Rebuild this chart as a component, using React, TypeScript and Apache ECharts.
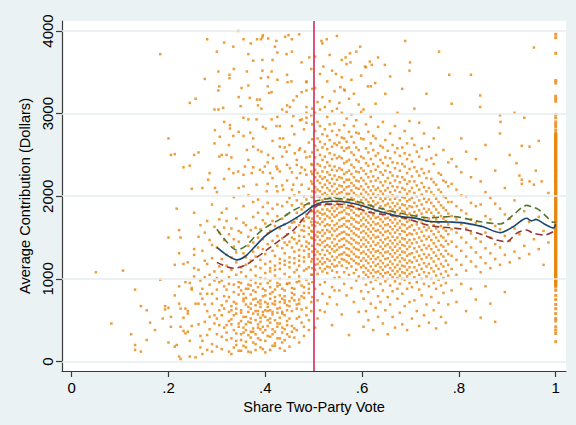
import React, { useEffect, useRef } from "react";
import * as echarts from "echarts";

// ---- axis ticks ----
const voteTicks = [0, 0.2, 0.4, 0.6, 0.8, 1];
const voteTickLabels = ["0", ".2", ".4", ".6", ".8", "1"];
const dollarTicks = [0, 1000, 2000, 3000, 4000];
const cutoff = 0.5;

// ---- scatter: [vote share, contributions at that share] ----
const sparseLeft: [number, number[]][] = [
  [0.05, [1080]], [0.082, [460]], [0.106, [1100]], [0.123, [330]], [0.131, [870, 200, 140]],
  [0.143, [670, 120]], [0.155, [620, 260]], [0.162, [470]], [0.172, [380]], [0.183, [3720, 990]],
  [0.188, [520]], [0.193, [670, 630]], [0.2, [230, 1500, 650, 2700]], [0.205, [540, 420, 2500]],
  [0.213, [1170, 180, 2510, 800]], [0.217, [200, 1850]], [0.222, [1590, 1310, 910, 700, 60]],
  [0.225, [1500, 640, 30, 420]], [0.231, [1180, 530, 370, 2350]], [0.235, [640, 340, 960]],
  [0.24, [610, 580, 360, 1200]], [0.244, [950, 250, 60, 3130, 2370]], [0.248, [890, 870, 430, 2090]],
  [0.253, [1800, 1360, 1290, 1130, 1030, 2500]], [0.256, [3180, 50, 700]],
  [0.262, [1110, 700, 1510, 2530, 450]], [0.266, [310, 820, 1650, 170, 980]],
];

const risingColumns: [number, number[]][] = [
  [0.270, [250, 760, 1340, 90, 2100, 880]],
  [0.275, [480, 1020, 1560, 690, 3420, 1220]],
  [0.280, [140, 610, 1180, 1700, 820, 3900, 320]],
  [0.285, [390, 930, 1470, 2280, 540, 1050]],
  [0.290, [210, 820, 1250, 1900, 700, 120, 1410]],
  [0.295, [560, 1090, 1630, 2640, 460, 980, 3050]],
  [0.300, [330, 870, 1380, 2050, 520, 180, 1010, 760]],
  [0.305, [620, 1150, 1720, 2480, 960, 440, 1560, 3330]],
  [0.310, [150, 680, 1240, 1800, 560, 300, 1090, 980]],
  [0.315, [410, 910, 1470, 2210, 2900, 790, 1620, 640, 3860]],
  [0.320, [260, 730, 1290, 1850, 350, 870, 1700, 440, 1160]],
  [0.325, [490, 1020, 1540, 2330, 600, 120, 2620, 940, 780]],
  [0.330, [90, 620, 1110, 1610, 2470, 510, 280, 1260, 670, 450]],
  [0.335, [380, 840, 1390, 1990, 720, 930, 3540, 170, 1480, 560]],
  [0.340, [200, 700, 1200, 1730, 580, 340, 1050, 640, 250, 1320]],
  [0.345, [460, 960, 1450, 2100, 2780, 810, 1580, 420, 900, 3200, 130]],
  [0.350, [130, 590, 1080, 1560, 490, 260, 950, 620, 860, 1140, 330]],
  [0.355, [350, 820, 1310, 1880, 2260, 730, 1680, 410, 540, 2950, 760, 190]],
  [0.360, [240, 690, 1170, 1650, 380, 170, 1030, 770, 540, 1260, 450, 880]],
  [0.365, [480, 930, 1400, 2010, 2440, 600, 1510, 320, 880, 3720, 660, 120]],
  [0.370, [110, 640, 1110, 1590, 520, 290, 990, 700, 920, 1220, 470, 810, 360]],
  [0.375, [400, 860, 1330, 1930, 2350, 750, 1440, 360, 580, 2700, 1750, 230]],
  [0.380, [210, 680, 1150, 1620, 330, 140, 1040, 760, 840, 1270, 500, 950, 610]],
  [0.385, [450, 900, 1380, 1960, 2560, 570, 1500, 410, 610, 3100, 720, 1800, 280]],
  [0.390, [170, 660, 1130, 1600, 530, 260, 1010, 700, 940, 1230, 480, 740, 390]],
  [0.395, [420, 880, 1360, 1870, 2290, 790, 1480, 350, 600, 2840, 1710, 3950, 560, 150]],
  [0.400, [250, 720, 1180, 1670, 380, 110, 1070, 800, 860, 1300, 540, 1000, 620]],
  [0.405, [500, 950, 1420, 1920, 2410, 610, 1550, 430, 660, 3330, 700, 1790, 2150, 310]],
  [0.410, [140, 620, 1090, 1580, 470, 300, 980, 760, 900, 1210, 520, 1130, 820]],
  [0.415, [390, 840, 1340, 1850, 2220, 700, 1460, 330, 570, 2670, 1700, 3650, 600, 190]],
  [0.420, [220, 690, 1160, 1640, 360, 190, 1040, 780, 870, 1280, 500, 1110, 730, 3810]],
  [0.425, [460, 910, 1400, 1900, 2330, 590, 1520, 420, 640, 2960, 1760, 2060, 950, 280]],
  [0.430, [160, 650, 1120, 1610, 530, 280, 1000, 720, 930, 1240, 460, 1190, 800, 2700]],
  [0.435, [410, 880, 1370, 1880, 2480, 760, 1490, 350, 600, 3050, 1730, 2130, 580, 230]],
  [0.440, [260, 710, 1170, 1660, 390, 130, 1060, 790, 860, 1310, 560, 1220, 740, 1440, 2590]],
  [0.445, [490, 940, 1410, 1930, 2380, 620, 1540, 440, 680, 3470, 1780, 2190, 940, 330]],
  [0.450, [180, 670, 1140, 1620, 520, 300, 1020, 730, 950, 1260, 1200, 1450, 1980, 2620]],
  [0.455, [430, 890, 1380, 1890, 2290, 770, 1500, 360, 610, 2850, 830, 1680, 2080, 3900]],
  [0.460, [290, 740, 1190, 1690, 400, 1080, 1560, 810, 880, 1330, 1250, 1480, 2010, 2750]],
  [0.465, [520, 960, 1430, 1950, 2440, 640, 1800, 2220, 1730, 690, 1110, 3210, 380]],
  [0.470, [230, 700, 1160, 1650, 540, 1030, 1520, 750, 970, 1280, 1220, 1460, 2050, 2560, 1350]],
  [0.475, [470, 920, 1400, 1910, 2350, 790, 1840, 2140, 1710, 1590, 2930, 3620, 630]],
  [0.480, [310, 770, 1210, 1700, 420, 1100, 1580, 830, 900, 1340, 1260, 1510, 2000, 2810, 1640, 1870]],
  [0.485, [560, 990, 1450, 1960, 2470, 650, 1780, 2260, 1750, 1390, 3080, 3380, 1120]],
  [0.490, [380, 830, 1270, 1740, 500, 1140, 1620, 880, 940, 1360, 1300, 1540, 2090, 2650, 1430, 1910]],
  [0.495, [610, 1050, 1500, 2000, 2390, 720, 1820, 2180, 1690, 1580, 2980, 3540, 2300, 1210]],
  [0.497, [1050, 1130, 1240, 1330, 1400, 1490, 1570, 1650, 1730, 1820, 1880, 1990, 2060, 2150, 2270, 2380, 2530, 2690, 2870, 3060, 960, 3300, 780]],
];

const upperScatter: [number, number][] = [
  [0.344, 4000], [0.355, 3900], [0.370, 3850], [0.383, 3900], [0.391, 3900], [0.394, 3925],
  [0.406, 3910], [0.423, 3880], [0.441, 3930], [0.448, 3950], [0.470, 3960], [0.300, 3750],
  [0.334, 3810], [0.375, 3640], [0.394, 3650], [0.425, 3740], [0.444, 3720], [0.455, 3750],
  [0.491, 3680], [0.326, 3470], [0.326, 3430], [0.303, 3510], [0.362, 3510], [0.394, 3520],
  [0.413, 3510], [0.391, 3430], [0.406, 3440], [0.425, 3410], [0.446, 3380], [0.454, 3390],
  [0.351, 3310], [0.365, 3340], [0.408, 3250], [0.413, 3260], [0.383, 3170], [0.389, 3170],
  [0.368, 3190], [0.349, 3090], [0.303, 3280], [0.445, 3100], [0.451, 3080], [0.458, 3160],
  [0.475, 3260], [0.485, 3280], [0.485, 3390], [0.303, 3050], [0.313, 3070], [0.296, 2800],
  [0.306, 2720], [0.327, 2820], [0.327, 2860], [0.334, 2730], [0.310, 2500], [0.320, 2500],
  [0.355, 2730], [0.369, 2770], [0.365, 2930], [0.382, 2930], [0.392, 3060], [0.401, 2820],
  [0.413, 2930], [0.423, 2850], [0.430, 2850], [0.444, 3020], [0.458, 2970], [0.437, 2700],
  [0.472, 2920], [0.485, 3010], [0.485, 2950], [0.485, 2890], [0.362, 2560], [0.375, 2600],
  [0.392, 2540], [0.406, 2500], [0.416, 2460], [0.430, 2600], [0.444, 2540], [0.461, 2520],
  [0.472, 2580], [0.482, 2540], [0.492, 2480], [0.334, 2280], [0.344, 2300], [0.358, 2360],
  [0.372, 2280], [0.389, 2320], [0.399, 2360], [0.410, 2280], [0.423, 2360], [0.430, 2300],
  [0.451, 2340], [0.465, 2380], [0.472, 2280], [0.482, 2320], [0.282, 2200], [0.296, 2100],
  [0.355, 2120], [0.382, 2140], [0.403, 2060], [0.423, 2120], [0.437, 2080], [0.458, 2140],
  [0.516, 3880], [0.527, 3900], [0.558, 3650], [0.566, 3680], [0.575, 3730], [0.576, 3620],
  [0.596, 3810], [0.606, 3570], [0.616, 3630], [0.620, 3590], [0.520, 3570], [0.546, 3480],
  [0.555, 3320], [0.564, 3280], [0.612, 3330], [0.627, 3370], [0.647, 3590], [0.689, 3880],
  [0.699, 3620], [0.759, 3750], [0.780, 3470], [0.844, 3220], [0.885, 2980], [0.844, 3080],
  [0.886, 2900], [0.930, 2610], [0.946, 2600], [0.959, 2310], [0.971, 2180], [0.919, 2400],
  [0.930, 2200], [0.930, 2150], [0.946, 2180],
];

const denseColumns: [number, number[]][] = [
  [0.503, [880, 1110, 1170, 1290, 1360, 1470, 1530, 1640, 1690, 1800, 1870, 1930, 2050, 2110, 2230, 2320, 2470, 2610, 2790, 3010, 3310, 3690, 410]],
  [0.508, [740, 1060, 1180, 1240, 1330, 1420, 1510, 1570, 1680, 1760, 1820, 1910, 2000, 2080, 2190, 2280, 2390, 2560, 2700, 2900, 3140, 520]],
  [0.513, [930, 1130, 1210, 1300, 1410, 1470, 1560, 1660, 1730, 1800, 1900, 1990, 2060, 2160, 2240, 2370, 2500, 2660, 2850, 3050, 3480, 620]],
  [0.518, [820, 1090, 1180, 1250, 1350, 1440, 1520, 1590, 1690, 1780, 1840, 1950, 2020, 2110, 2210, 2300, 2440, 2590, 2750, 3200, 3850]],
  [0.523, [600, 960, 1120, 1200, 1290, 1390, 1460, 1550, 1640, 1720, 1790, 1890, 1970, 2040, 2140, 2230, 2350, 2480, 2630, 2810, 3080]],
  [0.528, [700, 1070, 1150, 1240, 1340, 1410, 1490, 1590, 1660, 1760, 1840, 1910, 2010, 2100, 2190, 2290, 2410, 2570, 2730, 2960, 3390]],
  [0.533, [780, 1140, 1220, 1310, 1390, 1490, 1570, 1650, 1740, 1820, 1900, 1990, 2070, 2160, 2260, 2370, 2520, 2680, 2870, 3150, 3710]],
  [0.538, [440, 900, 1100, 1180, 1270, 1360, 1440, 1530, 1610, 1700, 1780, 1860, 1950, 2030, 2120, 2210, 2320, 2450, 2600, 2790, 3030, 3520]],
  [0.543, [1010, 1150, 1230, 1330, 1400, 1480, 1580, 1650, 1750, 1820, 1890, 1990, 2060, 2150, 2250, 2360, 2500, 2640, 2880, 3270, 860]],
  [0.548, [690, 1080, 1160, 1260, 1350, 1420, 1520, 1600, 1670, 1770, 1850, 1930, 2020, 2090, 2200, 2310, 2460, 2620, 2740, 3060, 3940]],
  [0.553, [860, 1020, 1200, 1290, 1380, 1460, 1540, 1630, 1710, 1800, 1880, 1960, 2040, 2130, 2230, 2340, 2480, 2650, 2800, 3130]],
  [0.558, [570, 1160, 1240, 1300, 1390, 1480, 1560, 1640, 1730, 1810, 1870, 1960, 2050, 2120, 2220, 2320, 2460, 2590, 2710, 3010, 3440]],
  [0.563, [940, 1080, 1230, 1320, 1410, 1490, 1570, 1660, 1740, 1830, 1910, 1990, 2080, 2170, 2270, 2400, 2550, 2700, 2860, 3290]],
  [0.568, [800, 1130, 1210, 1290, 1370, 1460, 1540, 1630, 1700, 1790, 1860, 1940, 2030, 2110, 2200, 2290, 2420, 2580, 2660, 2940, 3600]],
  [0.573, [320, 1050, 1190, 1280, 1360, 1440, 1530, 1610, 1700, 1780, 1860, 1940, 2030, 2120, 2200, 2310, 2440, 2590, 2780, 3180]],
  [0.578, [890, 1150, 1240, 1330, 1420, 1490, 1580, 1660, 1740, 1830, 1900, 1980, 2070, 2160, 2270, 2380, 2530, 2720, 2990, 3410]],
  [0.583, [720, 1070, 1220, 1300, 1380, 1470, 1550, 1630, 1720, 1800, 1870, 1960, 2040, 2130, 2230, 2350, 2500, 2650, 2850, 3240]],
  [0.588, [980, 1110, 1190, 1270, 1360, 1440, 1530, 1610, 1690, 1770, 1850, 1930, 2010, 2100, 2190, 2300, 2440, 2590, 2770, 2920, 3750]],
  [0.593, [600, 1030, 1180, 1260, 1350, 1430, 1510, 1600, 1680, 1760, 1840, 1920, 2000, 2090, 2180, 2290, 2420, 2560, 2760, 3110]],
  [0.598, [850, 1140, 1220, 1310, 1390, 1470, 1560, 1640, 1710, 1790, 1870, 1950, 2030, 2120, 2220, 2340, 2480, 2700, 3020, 3460]],
  [0.603, [420, 760, 1000, 1080, 1160, 1250, 1330, 1420, 1500, 1580, 1660, 1740, 1820, 1900, 1990, 2080, 2190, 2310, 2460, 2690, 3050]],
  [0.608, [610, 930, 1050, 1130, 1220, 1300, 1390, 1470, 1550, 1630, 1710, 1790, 1870, 1960, 2050, 2150, 2270, 2400, 2580, 2870, 3560]],
  [0.613, [500, 840, 1020, 1100, 1190, 1270, 1350, 1440, 1520, 1600, 1680, 1760, 1850, 1930, 2020, 2110, 2230, 2370, 2530, 2780]],
  [0.618, [700, 960, 1070, 1150, 1240, 1320, 1400, 1490, 1570, 1650, 1730, 1810, 1890, 1980, 2070, 2180, 2300, 2450, 2640, 2960, 3330]],
  [0.623, [380, 880, 1030, 1110, 1200, 1280, 1360, 1450, 1530, 1610, 1690, 1770, 1860, 1940, 2030, 2120, 2240, 2390, 2560, 2730]],
  [0.628, [650, 990, 1080, 1160, 1240, 1330, 1410, 1500, 1580, 1660, 1740, 1820, 1900, 1990, 2080, 2190, 2320, 2490, 2700, 3120]],
  [0.633, [540, 790, 1010, 1090, 1180, 1260, 1340, 1430, 1510, 1590, 1670, 1750, 1830, 1920, 2010, 2100, 2220, 2360, 2520, 2840, 3680]],
  [0.638, [720, 940, 1060, 1140, 1220, 1310, 1390, 1470, 1560, 1640, 1720, 1800, 1880, 1970, 2060, 2170, 2290, 2440, 2610]],
  [0.643, [460, 860, 1030, 1110, 1190, 1280, 1360, 1440, 1530, 1610, 1690, 1770, 1850, 1940, 2030, 2130, 2260, 2400, 2590, 2900]],
  [0.648, [620, 970, 1070, 1150, 1240, 1320, 1400, 1480, 1570, 1650, 1730, 1810, 1890, 1970, 2070, 2180, 2310, 2470, 2680, 3240]],
  [0.653, [330, 780, 1000, 1080, 1170, 1250, 1330, 1420, 1500, 1580, 1660, 1740, 1820, 1910, 2000, 2100, 2220, 2370, 2550]],
  [0.658, [690, 920, 1050, 1130, 1210, 1300, 1380, 1460, 1550, 1630, 1710, 1790, 1870, 1960, 2050, 2160, 2290, 2460, 2760, 3450]],
  [0.663, [540, 850, 1020, 1100, 1180, 1270, 1350, 1430, 1510, 1600, 1680, 1760, 1840, 1920, 2010, 2120, 2250, 2410, 2620]],
  [0.668, [410, 970, 1060, 1140, 1230, 1310, 1390, 1470, 1560, 1640, 1720, 1800, 1880, 1970, 2070, 2190, 2340, 2530, 2850]],
  [0.673, [760, 880, 1010, 1090, 1170, 1260, 1340, 1420, 1500, 1590, 1670, 1750, 1830, 1910, 2000, 2110, 2240, 2400, 2580, 3010]],
  [0.678, [590, 940, 1040, 1120, 1210, 1290, 1370, 1450, 1540, 1620, 1700, 1780, 1860, 1950, 2050, 2170, 2310, 2490, 2700]],
  [0.683, [450, 820, 1000, 1080, 1160, 1250, 1330, 1410, 1490, 1580, 1660, 1740, 1820, 1900, 1990, 2100, 2230, 2390, 2590, 3300]],
  [0.688, [670, 990, 1070, 1150, 1230, 1320, 1400, 1480, 1570, 1650, 1730, 1810, 1890, 1980, 2080, 2200, 2360, 2520, 2790]],
  [0.693, [380, 880, 1030, 1110, 1190, 1280, 1360, 1440, 1530, 1610, 1690, 1770, 1850, 1940, 2030, 2150, 2280, 2450, 2640]],
  [0.698, [720, 950, 1060, 1140, 1220, 1300, 1390, 1470, 1550, 1630, 1710, 1790, 1880, 1960, 2060, 2180, 2330, 2500, 2910, 3520]],
  [0.703, [520, 900, 1080, 1200, 1310, 1430, 1540, 1650, 1760, 1870, 1980, 2100, 2240, 2420, 2700]],
  [0.708, [740, 1020, 1140, 1260, 1370, 1480, 1590, 1700, 1810, 1920, 2040, 2180, 2350, 2620, 3060]],
  [0.713, [610, 960, 1100, 1220, 1330, 1440, 1550, 1660, 1770, 1880, 2000, 2130, 2300, 2540]],
  [0.718, [430, 870, 1050, 1170, 1280, 1390, 1500, 1610, 1720, 1830, 1950, 2080, 2250, 2480, 2890]],
  [0.723, [800, 1000, 1120, 1240, 1350, 1460, 1570, 1680, 1790, 1900, 2020, 2160, 2330, 2580]],
  [0.728, [560, 940, 1080, 1190, 1300, 1410, 1520, 1630, 1740, 1850, 1970, 2110, 2280, 2760]],
  [0.733, [690, 1030, 1150, 1260, 1370, 1480, 1590, 1700, 1810, 1930, 2060, 2220, 2440, 3240]],
  [0.738, [470, 910, 1070, 1180, 1290, 1400, 1510, 1620, 1730, 1840, 1960, 2100, 2300, 2600]],
  [0.743, [780, 1000, 1130, 1250, 1360, 1470, 1580, 1690, 1800, 1920, 2050, 2210, 2460]],
  [0.748, [620, 950, 1090, 1210, 1320, 1430, 1540, 1650, 1760, 1880, 2010, 2170, 2390, 2700]],
  [0.753, [400, 880, 1040, 1160, 1280, 1390, 1500, 1610, 1720, 1840, 1970, 2140, 2500]],
  [0.758, [710, 990, 1120, 1240, 1350, 1460, 1570, 1680, 1800, 1930, 2080, 2280, 2830]],
  [0.763, [540, 920, 1060, 1180, 1300, 1410, 1520, 1640, 1760, 1890, 2050, 2260]],
  [0.768, [830, 1010, 1150, 1270, 1390, 1500, 1610, 1730, 1860, 2000, 2190, 2560]],
  [0.773, [470, 950, 1090, 1220, 1340, 1460, 1580, 1700, 1830, 1980, 2170]],
  [0.778, [690, 1040, 1170, 1300, 1420, 1540, 1660, 1790, 1930, 2120, 2410]],
];

const sparseRight: [number, number[]][] = [
  [0.785, [1120, 1280, 1450, 1600, 1760, 1930, 2150, 2450, 860, 3120]],
  [0.795, [1050, 1230, 1390, 1560, 1720, 1880, 2080, 2360, 720]],
  [0.805, [1170, 1340, 1500, 1660, 1830, 2010, 2290, 940, 2700]],
  [0.815, [1100, 1270, 1440, 1610, 1790, 2000, 2540, 610]],
  [0.825, [1210, 1380, 1550, 1720, 1920, 2230, 880, 3470]],
  [0.835, [1150, 1320, 1490, 1680, 1880, 2450, 750]],
  [0.845, [1080, 1260, 1450, 1640, 1900, 2180, 530]],
  [0.855, [1190, 1370, 1560, 1760, 2050, 910, 2620]],
  [0.865, [1130, 1310, 1500, 1720, 1980, 700]],
  [0.875, [1240, 1420, 1640, 1910, 2310, 480]],
  [0.885, [1170, 1380, 1600, 1850, 2760]],
  [0.895, [1290, 1520, 1780, 2100, 840]],
  [0.905, [1200, 1460, 1730, 2500]],
  [0.915, [1330, 1610, 1950, 3010]],
  [0.925, [1250, 1540, 2250]],
  [0.935, [1400, 1820, 2950]],
  [0.945, [1300, 1690]],
  [0.955, [1480, 2140, 3800]],
  [0.965, [1360, 1750, 2670]],
  [0.975, [1580, 1170]],
  [0.985, [1440, 2040]],
];

// districts at a vote share of 1 (unopposed)
const unopposed: number[] = [
  3960, 3920, 3730, 3400, 3370, 3210, 3180, 3150, 2990, 2950, 2900, 2870, 2840, 2800,
  2765, 2753, 2742, 2731, 2720, 2706, 2693, 2682, 2671, 2660, 2648, 2635, 2622, 2612,
  2601, 2589, 2577, 2564, 2551, 2541, 2530, 2516, 2503, 2492, 2482, 2470, 2458, 2444,
  2431, 2420, 2410, 2398, 2386, 2374, 2362, 2350, 2337, 2325, 2312, 2301, 2290, 2277,
  2264, 2253, 2243, 2230, 2218, 2204, 2191, 2180, 2170, 2158, 2146, 2133, 2121, 2110,
  2098, 2085, 2072, 2061, 2050, 2037, 2024, 2012, 2001, 1989, 1977, 1964, 1952, 1941,
  1930, 1917, 1904, 1892, 1881, 1869, 1857, 1844, 1832, 1821, 1810, 1798, 1786, 1773,
  1760, 1749, 1737, 1724, 1712, 1701, 1690, 1677, 1664, 1652, 1641, 1629, 1617, 1603,
  1590, 1580, 1569, 1557, 1545, 1533, 1521, 1508, 1496, 1484, 1472, 1461, 1450, 1437,
  1424, 1412, 1401, 1388, 1376, 1364, 1352, 1341, 1330, 1317, 1304, 1292, 1281, 1269,
  1257, 1244, 1232, 1221, 1210, 1198, 1186, 1173, 1160, 1149, 1137, 1124, 1112, 1101,
  1090, 1078, 1066, 1053, 1041, 1028, 1016, 1004, 992, 980, 968, 957, 945, 932, 920,
  900, 860, 800, 750, 690, 640, 580, 520, 490, 420, 380, 340, 240,
];

// ---- fitted curves: [vote share, dollars] ----
const fitCurve: [number, number][] = [
  [0.30, 1380], [0.32, 1290], [0.341, 1230], [0.36, 1280], [0.38, 1400], [0.40, 1520],
  [0.42, 1600], [0.45, 1690], [0.475, 1780], [0.50, 1885], [0.52, 1930], [0.55, 1940],
  [0.58, 1915], [0.60, 1885], [0.64, 1810], [0.68, 1755], [0.71, 1735], [0.74, 1695],
  [0.78, 1688], [0.81, 1678], [0.85, 1630], [0.885, 1560], [0.912, 1630], [0.94, 1733],
  [0.95, 1702], [0.959, 1720], [0.975, 1670], [0.988, 1630], [0.995, 1615], [1.0, 1660],
];
const upperBand: [number, number][] = [
  [0.30, 1600], [0.32, 1450], [0.341, 1350], [0.36, 1400], [0.38, 1520], [0.40, 1620],
  [0.43, 1720], [0.458, 1830], [0.48, 1890], [0.50, 1935], [0.54, 1975], [0.58, 1955],
  [0.61, 1900], [0.64, 1850], [0.68, 1795], [0.74, 1740], [0.785, 1755], [0.844, 1692],
  [0.885, 1665], [0.912, 1773], [0.94, 1890], [0.95, 1874], [0.964, 1842], [0.981, 1753],
  [0.995, 1685], [1.0, 1685],
];
const lowerBand: [number, number][] = [
  [0.30, 1200], [0.334, 1128], [0.36, 1170], [0.38, 1250], [0.403, 1350], [0.43, 1470],
  [0.458, 1590], [0.48, 1740], [0.50, 1860], [0.52, 1905], [0.55, 1905], [0.58, 1875],
  [0.62, 1800], [0.68, 1750], [0.74, 1645], [0.81, 1600], [0.85, 1531], [0.878, 1470],
  [0.899, 1450], [0.919, 1551], [0.94, 1592], [0.954, 1551], [0.978, 1531], [0.995, 1571],
];

const FONT = "'Liberation Sans', Arial, Helvetica, sans-serif";
const DOT = "#e8840a";

export default function App() {
  const ref = useRef<HTMLDivElement>(null);
  useEffect(() => {
    if (!ref.current) return;
    const chart = echarts.init(ref.current, undefined, { renderer: "svg" });
    const points: [number, number][] = [];
    [...sparseLeft, ...risingColumns, ...denseColumns, ...sparseRight].forEach(([x, ys]) => {
      ys.forEach((y) => points.push([x, y]));
    });
    upperScatter.forEach((p) => points.push(p));
    const unopposedPoints = unopposed.map((y) => [1, y]);

    const axisColor = "#3a3a3a";
    chart.setOption({
      animation: false,
      backgroundColor: "#eaf2f3",
      grid: { left: 62, right: 10, top: 21, bottom: 54, show: true, backgroundColor: "#ffffff", borderWidth: 0 },
      xAxis: {
        type: "value",
        min: -0.02,
        max: 1.0213,
        name: "Share Two-Party Vote",
        nameLocation: "middle",
        nameGap: 23,
        nameTextStyle: { fontFamily: FONT, fontSize: 14.6, color: "#000" },
        axisLine: { show: true, onZero: false, lineStyle: { color: axisColor, width: 1.2 } },
        axisTick: { show: true, customValues: voteTicks, length: 6, lineStyle: { color: axisColor, width: 1.2 } },
        axisLabel: {
          customValues: voteTicks,
          margin: 9,
          fontFamily: FONT,
          fontSize: 15,
          color: "#000",
          formatter: (v: number) => {
            const i = voteTicks.findIndex((t) => Math.abs(t - v) < 1e-6);
            return i >= 0 ? voteTickLabels[i] : "";
          },
        },
        splitLine: { show: false },
      },
      yAxis: {
        type: "value",
        min: -115,
        max: 4121,
        name: "Average Contribution (Dollars)",
        nameLocation: "middle",
        nameRotate: 90,
        nameGap: 24,
        nameTextStyle: { fontFamily: FONT, fontSize: 14.6, color: "#000" },
        axisLine: { show: true, onZero: false, lineStyle: { color: axisColor, width: 1.2 } },
        axisTick: { show: true, customValues: dollarTicks, length: 6, lineStyle: { color: axisColor, width: 1.2 } },
        axisLabel: {
          customValues: dollarTicks,
          rotate: 90,
          margin: 7,
          fontFamily: FONT,
          fontSize: 15,
          color: "#000",
          formatter: (v: number) => String(v),
        },
        splitLine: { show: false },
      },
      series: [
        {
          type: "line",
          data: [],
          z: 1,
          silent: true,
          markLine: {
            silent: true,
            symbol: ["none", "none"],
            label: { show: false },
            lineStyle: { color: "#e6eef0", width: 1.5, type: "solid" },
            data: dollarTicks.map((v) => ({ yAxis: v })),
          },
        },
        {
          type: "scatter",
          data: points,
          z: 2,
          symbol: "rect",
          symbolSize: 2.5,
          itemStyle: { color: DOT },
          silent: true,
        },
        {
          type: "scatter",
          data: unopposedPoints,
          z: 2,
          symbol: "rect",
          symbolSize: 3,
          itemStyle: { color: DOT },
          silent: true,
        },
        {
          type: "line",
          data: [],
          z: 3,
          silent: true,
          markLine: {
            silent: true,
            symbol: ["none", "none"],
            label: { show: false },
            lineStyle: { color: "#d22a5a", width: 1.6, type: "solid" },
            data: [{ xAxis: cutoff }],
          },
        },
        {
          type: "line",
          data: upperBand,
          z: 4,
          smooth: 0.3,
          showSymbol: false,
          lineStyle: { color: "#55752f", width: 1.6, type: [7, 4] },
        },
        {
          type: "line",
          data: lowerBand,
          z: 4,
          smooth: 0.3,
          showSymbol: false,
          lineStyle: { color: "#90353b", width: 1.6, type: [7, 4] },
        },
        {
          type: "line",
          data: fitCurve,
          z: 5,
          smooth: 0.3,
          showSymbol: false,
          lineStyle: { color: "#1a476f", width: 1.6 },
        },
      ],
    });
    return () => chart.dispose();
  }, []);
  return <div ref={ref} style={{ position: "absolute", left: 0, top: 0, width: 576, height: 425 }} />;
}
